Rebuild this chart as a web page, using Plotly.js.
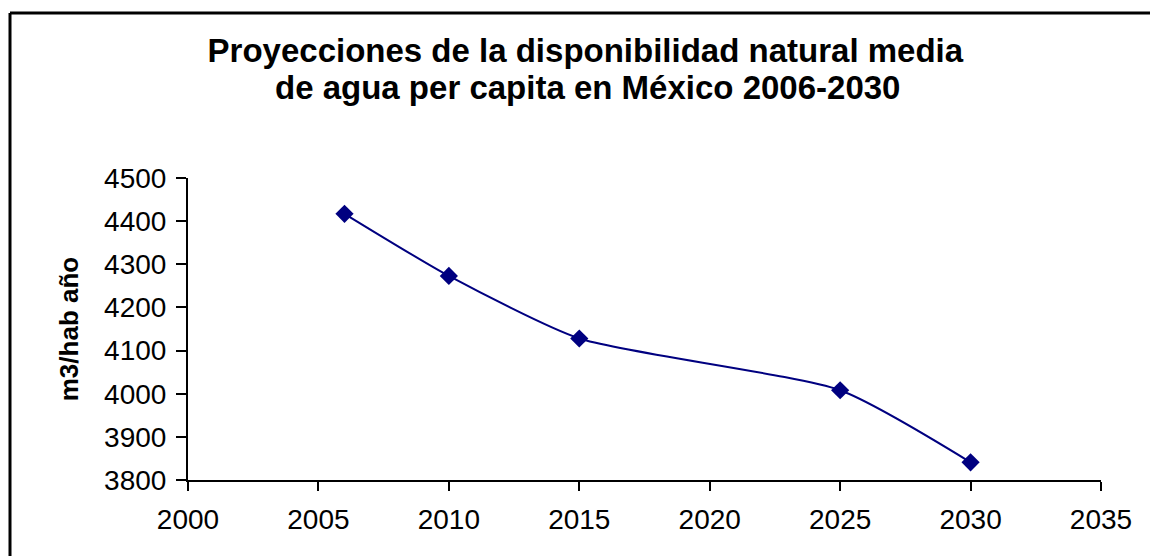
<!DOCTYPE html>
<html>
<head>
<meta charset="utf-8">
<script src="https://cdn.plot.ly/plotly-3.0.1.min.js"></script>
<style>
html,body{margin:0;padding:0;background:#fff;}
#chart{width:1150px;height:556px;}
</style>
</head>
<body>
<div id="chart"></div>
<script>
const years = [2006, 2010, 2015, 2025, 2030];
const disponibilidad = [4417, 4273, 4128, 4008, 3841];
const titleLine1 = 'Proyecciones de la disponibilidad natural media';
const titleLine2 = 'de agua per capita en México 2006-2030';
const yTitle = 'm3/hab año';
const xTicks = [2000, 2005, 2010, 2015, 2020, 2025, 2030, 2035];
const yTicks = [3800, 3900, 4000, 4100, 4200, 4300, 4400, 4500];

const trace = {
  x: years,
  y: disponibilidad,
  type: 'scatter',
  mode: 'lines+markers',
  line: {color: '#000080', width: 2, shape: 'spline', smoothing: 0.6},
  marker: {symbol: 'diamond', size: 14, color: '#000080'},
  hoverinfo: 'x+y'
};

const W = 1150, H = 556;
const m = {l: 188, r: 49, t: 178, b: 76};
const pw = W - m.l - m.r, ph = H - m.t - m.b;
const px = v => (v - m.l) / pw;
const py = v => (H - m.b - v) / ph;
const FONT = 'Liberation Sans, Arial, sans-serif';

const layout = {
  width: W, height: H,
  margin: m,
  paper_bgcolor: '#fff',
  plot_bgcolor: '#fff',
  showlegend: false,
  font: {family: FONT, color: '#000'},
  title: {
    text: titleLine1,
    font: {size: 33, family: FONT, weight: 'bold', color: '#000'},
    x: 0.509, xref: 'container', xanchor: 'center',
    y: 1 - 62/H, yref: 'container', yanchor: 'bottom'
  },
  annotations: [
    {text: titleLine2, xref: 'paper', yref: 'paper', x: px(587), y: py(108), xanchor: 'center', yanchor: 'bottom',
     showarrow: false, font: {size: 33, family: FONT, weight: 'bold', color: '#000'}}
  ],
  xaxis: {
    range: [2000, 2035],
    tickvals: xTicks,
    ticktext: xTicks.map(String),
    showgrid: false, zeroline: false,
    showline: true, linecolor: '#000', linewidth: 2,
    ticks: 'outside', ticklen: 9, tickwidth: 2, tickcolor: '#000',
    tickfont: {size: 28},
    ticklabelstandoff: 4
  },
  yaxis: {
    range: [3800, 4500],
    tickvals: yTicks,
    ticktext: yTicks.map(String),
    showgrid: false, zeroline: false,
    showline: true, linecolor: '#000', linewidth: 2,
    ticks: 'outside', ticklen: 10, tickwidth: 2, tickcolor: '#000',
    tickfont: {size: 28},
    ticklabelstandoff: 4,
    title: {text: yTitle, font: {size: 26, weight: 'bold'}, standoff: 18}
  },
  shapes: [
    {type: 'line', xref: 'paper', yref: 'paper', x0: px(10), x1: px(1160), y0: py(13), y1: py(13), line: {color: '#000', width: 3}},
    {type: 'line', xref: 'paper', yref: 'paper', x0: px(10), x1: px(10), y0: py(13), y1: py(570), line: {color: '#000', width: 3}}
  ]
};

Plotly.newPlot('chart', [trace], layout, {displayModeBar: false});
</script>
</body>
</html>
